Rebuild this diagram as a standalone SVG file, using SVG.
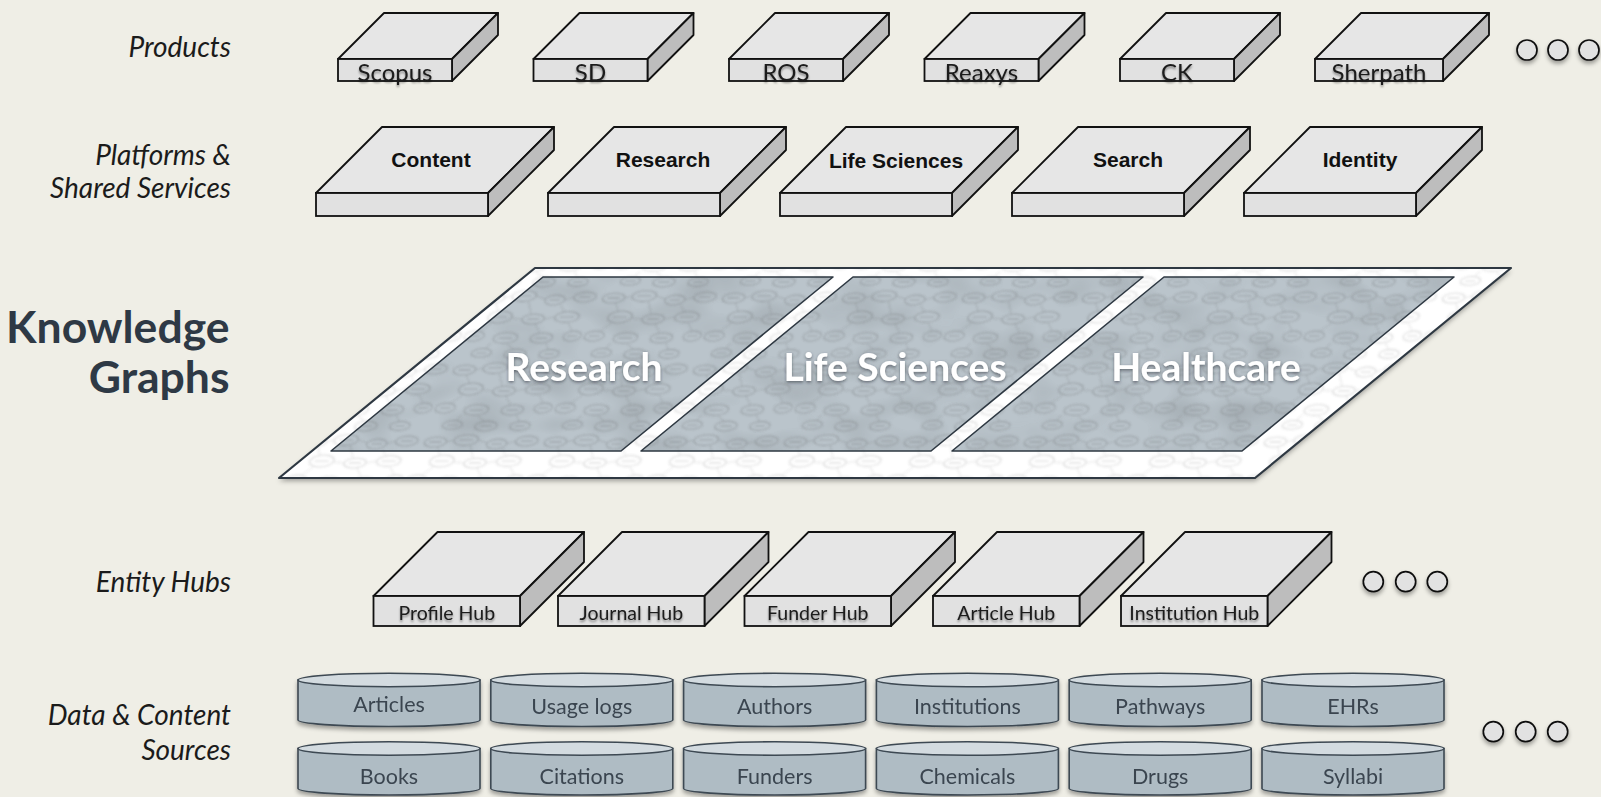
<svg xmlns="http://www.w3.org/2000/svg" width="1601" height="797" viewBox="0 0 1601 797">
  <defs>
    <style>
      .lbl { font-family: Lato, "Liberation Sans", sans-serif; font-style: italic; font-size: 28px; fill: #1b1b1b; text-anchor: end; }
      .kg { font-family: Lato, "Liberation Sans", sans-serif; font-weight: bold; font-size: 44.5px; fill: #2e3945; text-anchor: end; }
      .face-top { fill: #e6e6e6; stroke: #111; stroke-width: 1.8; stroke-linejoin: round; }
      .face-front { fill: #e1e1e1; stroke: #111; stroke-width: 1.8; }
      .face-side { fill: #bdbdbd; stroke: #111; stroke-width: 1.8; stroke-linejoin: round; }
      .prod { font-family: Lato, "Liberation Sans", sans-serif; font-size: 24px; fill: #1b1b1b; text-anchor: middle; filter: url(#txtShadow); }
      .plat { font-family: "Liberation Sans", Arial, sans-serif; font-weight: bold; font-size: 21px; fill: #111; text-anchor: middle; }
      .hub { font-family: Lato, "Liberation Sans", sans-serif; font-size: 19.5px; fill: #1b1b1b; text-anchor: middle; filter: url(#txtShadow); }
      .panel { fill: #a9b5be; fill-opacity: 0.8; }
      .panel-edge { fill: none; stroke: #2e3842; stroke-width: 1.6; stroke-linejoin: round; }
      .panel-txt { font-family: Lato, "Liberation Sans", sans-serif; font-weight: bold; font-size: 39px; fill: #ffffff; text-anchor: middle; filter: url(#txtShadowDark); }
      .cyl-body { fill: #afbcc4; stroke: #3d4852; stroke-width: 1.6; }
      .cyl-top { fill: #d3dbe0; stroke: #3d4852; stroke-width: 1.6; }
      .cyl-txt { font-family: Lato, "Liberation Sans", sans-serif; font-size: 21.5px; fill: #3a4550; text-anchor: middle; }
      .dot { fill: #e2e2e2; stroke: #111; stroke-width: 1.7; filter: url(#softShadow); }
    </style>
    <filter id="txtShadow" x="-10%" y="-30%" width="120%" height="170%">
      <feDropShadow dx="0" dy="2" stdDeviation="1.3" flood-color="#000" flood-opacity="0.4"/>
    </filter>
    <filter id="txtShadowDark" x="-10%" y="-30%" width="120%" height="170%">
      <feDropShadow dx="0" dy="1.5" stdDeviation="1.5" flood-color="#2a323a" flood-opacity="0.6"/>
    </filter>
    <filter id="softShadow" x="-40%" y="-40%" width="180%" height="190%">
      <feDropShadow dx="0" dy="3" stdDeviation="2" flood-color="#000" flood-opacity="0.35"/>
    </filter>
    <filter id="plateShadow" x="-5%" y="-5%" width="110%" height="115%">
      <feDropShadow dx="0" dy="3" stdDeviation="2.5" flood-color="#000" flood-opacity="0.35"/>
    </filter>
    <filter id="haze" x="0" y="0" width="100%" height="100%">
      <feGaussianBlur stdDeviation="1.1"/>
    </filter>
    <!-- darker blotches in the graph picture -->
    <filter id="mottle" x="0" y="0" width="100%" height="100%">
      <feTurbulence type="fractalNoise" baseFrequency="0.018 0.03" numOctaves="2" seed="7"/>
      <feColorMatrix type="matrix" values="0 0 0 0 0.25  0 0 0 0 0.28  0 0 0 0 0.3  0 0 0 -2.2 1.25"/>
    </filter>
    <!-- network-graph texture: labelled ellipse nodes with links -->
    <pattern id="net" width="120" height="72" patternUnits="userSpaceOnUse" patternTransform="skewX(-22)">
      <g fill="none" stroke="#606060" stroke-width="1">
        <ellipse cx="14" cy="10" rx="11" ry="5"/>
        <ellipse cx="44" cy="8" rx="12" ry="5.5"/>
        <ellipse cx="76" cy="12" rx="10" ry="5"/>
        <ellipse cx="105" cy="9" rx="11" ry="5"/>
        <ellipse cx="28" cy="29" rx="12" ry="6"/>
        <ellipse cx="62" cy="31" rx="11" ry="5"/>
        <ellipse cx="95" cy="29" rx="12" ry="5.5"/>
        <ellipse cx="10" cy="48" rx="10" ry="5"/>
        <ellipse cx="42" cy="50" rx="12" ry="5.5"/>
        <ellipse cx="78" cy="50" rx="11" ry="5"/>
        <ellipse cx="108" cy="48" rx="9" ry="5"/>
        <ellipse cx="24" cy="65" rx="10" ry="4.5"/>
        <ellipse cx="58" cy="66" rx="11" ry="5"/>
        <ellipse cx="92" cy="66" rx="10" ry="4.5"/>
        <path d="M8 10h12M37 8h14M71 12h10M99 9h12M21 29h14M56 31h12M88 29h14M5 48h10M35 50h14M72 50h12M103 48h10M19 65h10M52 66h12M87 66h10"/>
        <path d="M25 10 L32 8 M56 8 L66 11 M86 12 L94 9 M18 15 L24 23 M50 13 L58 26 M84 17 L90 24 M40 30 L51 31 M73 31 L83 29 M22 35 L14 43 M66 36 L74 45 M99 35 L106 43 M30 55 L26 61 M46 56 L54 61 M84 55 L90 62" stroke-width="0.7"/>
      </g>
    </pattern>
    <clipPath id="plateClip">
      <polygon points="535,268 1511,268 1255,478 279,478"/>
    </clipPath>
    <clipPath id="panelClip">
      <polygon points="543,277 833,277 621,451 331,451"/>
      <polygon points="853,277 1143,277 931,451 641,451"/>
      <polygon points="1164,277 1454,277 1242,451 952,451"/>
    </clipPath>
  </defs>

  <rect width="1601" height="797" fill="#efeee6"/>

  <!-- layer labels -->
  <g id="layer-labels">
    <text class="lbl" x="231" y="57">Products</text>
    <text class="lbl" x="231" y="165">Platforms &amp;</text>
    <text class="lbl" x="231" y="198">Shared Services</text>
    <text class="kg" x="229.5" y="343">Knowledge</text>
    <text class="kg" x="229.5" y="393">Graphs</text>
    <text class="lbl" x="231" y="592">Entity Hubs</text>
    <text class="lbl" x="231" y="725">Data &amp; Content</text>
    <text class="lbl" x="231" y="760">Sources</text>
  </g>

  <!-- products -->
  <g id="product-scopus">
    <polygon class="face-top" points="338,59 384,13 498,13 452,59"/>
    <polygon class="face-side" points="452,59 498,13 498,35 452,81"/>
    <rect class="face-front" x="338" y="59" width="114" height="22"/>
    <text class="prod" x="395" y="81">Scopus</text>
  </g>
  <g id="product-sd">
    <polygon class="face-top" points="533.5,59 579.5,13 693.5,13 647.5,59"/>
    <polygon class="face-side" points="647.5,59 693.5,13 693.5,35 647.5,81"/>
    <rect class="face-front" x="533.5" y="59" width="114" height="22"/>
    <text class="prod" x="590.5" y="81">SD</text>
  </g>
  <g id="product-ros">
    <polygon class="face-top" points="729,59 775,13 889,13 843,59"/>
    <polygon class="face-side" points="843,59 889,13 889,35 843,81"/>
    <rect class="face-front" x="729" y="59" width="114" height="22"/>
    <text class="prod" x="786" y="81">ROS</text>
  </g>
  <g id="product-reaxys">
    <polygon class="face-top" points="924.5,59 970.5,13 1084.5,13 1038.5,59"/>
    <polygon class="face-side" points="1038.5,59 1084.5,13 1084.5,35 1038.5,81"/>
    <rect class="face-front" x="924.5" y="59" width="114" height="22"/>
    <text class="prod" x="981.5" y="81">Reaxys</text>
  </g>
  <g id="product-ck">
    <polygon class="face-top" points="1120,59 1166,13 1280,13 1234,59"/>
    <polygon class="face-side" points="1234,59 1280,13 1280,35 1234,81"/>
    <rect class="face-front" x="1120" y="59" width="114" height="22"/>
    <text class="prod" x="1177" y="81">CK</text>
  </g>
  <g id="product-sherpath">
    <polygon class="face-top" points="1315,59 1361,13 1489,13 1443,59"/>
    <polygon class="face-side" points="1443,59 1489,13 1489,35 1443,81"/>
    <rect class="face-front" x="1315" y="59" width="128" height="22"/>
    <text class="prod" x="1379" y="81">Sherpath</text>
  </g>
  <g id="product-more">
    <circle class="dot" cx="1527" cy="50" r="10"/>
    <circle class="dot" cx="1558" cy="50" r="10"/>
    <circle class="dot" cx="1589" cy="50" r="10"/>
  </g>

  <!-- platforms & shared services -->
  <g id="platform-content">
    <polygon class="face-top" points="316,193 382,127 554,127 488,193"/>
    <polygon class="face-side" points="488,193 554,127 554,150 488,216"/>
    <rect class="face-front" x="316" y="193" width="172" height="23"/>
    <text class="plat" x="431" y="167">Content</text>
  </g>
  <g id="platform-research">
    <polygon class="face-top" points="548,193 614,127 786,127 720,193"/>
    <polygon class="face-side" points="720,193 786,127 786,150 720,216"/>
    <rect class="face-front" x="548" y="193" width="172" height="23"/>
    <text class="plat" x="663" y="167">Research</text>
  </g>
  <g id="platform-life-sciences">
    <polygon class="face-top" points="780,193 846,127 1018,127 952,193"/>
    <polygon class="face-side" points="952,193 1018,127 1018,150 952,216"/>
    <rect class="face-front" x="780" y="193" width="172" height="23"/>
    <text class="plat" x="896" y="168">Life Sciences</text>
  </g>
  <g id="platform-search">
    <polygon class="face-top" points="1012,193 1078,127 1250,127 1184,193"/>
    <polygon class="face-side" points="1184,193 1250,127 1250,150 1184,216"/>
    <rect class="face-front" x="1012" y="193" width="172" height="23"/>
    <text class="plat" x="1128" y="167">Search</text>
  </g>
  <g id="platform-identity">
    <polygon class="face-top" points="1244,193 1310,127 1482,127 1416,193"/>
    <polygon class="face-side" points="1416,193 1482,127 1482,150 1416,216"/>
    <rect class="face-front" x="1244" y="193" width="172" height="23"/>
    <text class="plat" x="1360" y="167">Identity</text>
  </g>

  <!-- knowledge graph plate -->
  <g id="knowledge-graphs">
    <polygon points="535,268 1511,268 1255,478 279,478" fill="#ffffff" filter="url(#plateShadow)"/>
    <g clip-path="url(#plateClip)" filter="url(#haze)">
      <rect x="279" y="268" width="1232" height="210" fill="url(#net)" opacity="0.25"/>
    </g>
    <g id="kg-research">
      <polygon class="panel" points="543,277 833,277 621,451 331,451"/>
    </g>
    <g id="kg-life-sciences">
      <polygon class="panel" points="853,277 1143,277 931,451 641,451"/>
    </g>
    <g id="kg-healthcare">
      <polygon class="panel" points="1164,277 1454,277 1242,451 952,451"/>
    </g>
    <g clip-path="url(#panelClip)">
      <rect x="279" y="268" width="1232" height="210" filter="url(#mottle)" opacity="0.35"/>
      <g filter="url(#haze)">
        <rect x="279" y="268" width="1232" height="210" fill="url(#net)" opacity="0.32"/>
      </g>
    </g>
    <polygon class="panel-edge" points="543,277 833,277 621,451 331,451"/>
    <polygon class="panel-edge" points="853,277 1143,277 931,451 641,451"/>
    <polygon class="panel-edge" points="1164,277 1454,277 1242,451 952,451"/>
    <polygon points="535,268 1511,268 1255,478 279,478" fill="none" stroke="#2e3842" stroke-width="2.2" stroke-linejoin="round"/>
    <text class="panel-txt" x="584" y="381">Research</text>
    <text class="panel-txt" x="895" y="381">Life Sciences</text>
    <text class="panel-txt" x="1206" y="381">Healthcare</text>
  </g>

  <!-- entity hubs -->
  <g id="hub-profile">
    <polygon class="face-top" points="373.5,596 437.5,532 584,532 520,596"/>
    <polygon class="face-side" points="520,596 584,532 584,562 520,626"/>
    <rect class="face-front" x="373.5" y="596" width="146.5" height="30"/>
    <text class="hub" x="446.8" y="620">Profile Hub</text>
  </g>
  <g id="hub-journal">
    <polygon class="face-top" points="558,596 622,532 768.5,532 704.5,596"/>
    <polygon class="face-side" points="704.5,596 768.5,532 768.5,562 704.5,626"/>
    <rect class="face-front" x="558" y="596" width="146.5" height="30"/>
    <text class="hub" x="631.3" y="620">Journal Hub</text>
  </g>
  <g id="hub-funder">
    <polygon class="face-top" points="744.5,596 808.5,532 955,532 891,596"/>
    <polygon class="face-side" points="891,596 955,532 955,562 891,626"/>
    <rect class="face-front" x="744.5" y="596" width="146.5" height="30"/>
    <text class="hub" x="817.8" y="620">Funder Hub</text>
  </g>
  <g id="hub-article">
    <polygon class="face-top" points="933,596 997,532 1143.5,532 1079.5,596"/>
    <polygon class="face-side" points="1079.5,596 1143.5,532 1143.5,562 1079.5,626"/>
    <rect class="face-front" x="933" y="596" width="146.5" height="30"/>
    <text class="hub" x="1006.3" y="620">Article Hub</text>
  </g>
  <g id="hub-institution">
    <polygon class="face-top" points="1121,596 1185,532 1331.5,532 1267.5,596"/>
    <polygon class="face-side" points="1267.5,596 1331.5,532 1331.5,562 1267.5,626"/>
    <rect class="face-front" x="1121" y="596" width="146.5" height="30"/>
    <text class="hub" x="1194.3" y="620">Institution Hub</text>
  </g>
  <g id="hub-more">
    <circle class="dot" cx="1373.3" cy="581.7" r="10"/>
    <circle class="dot" cx="1405.7" cy="581.7" r="10"/>
    <circle class="dot" cx="1437.3" cy="581.7" r="10"/>
  </g>

  <!-- data & content sources (cylinders) -->
  <g id="sources" filter="url(#softShadow)">
    <g id="src-articles">
      <path class="cyl-body" d="M298,680 V720 A91,6.5 0 0 0 480,720 V680 Z"/>
      <ellipse class="cyl-top" cx="389" cy="680" rx="91" ry="6.8"/>
      <text class="cyl-txt" x="389" y="712">Articles</text>
    </g>
    <g id="src-usage-logs">
      <path class="cyl-body" d="M490.8,680 V720 A91,6.5 0 0 0 672.8,720 V680 Z"/>
      <ellipse class="cyl-top" cx="581.8" cy="680" rx="91" ry="6.8"/>
      <text class="cyl-txt" x="581.8" y="714">Usage logs</text>
    </g>
    <g id="src-authors">
      <path class="cyl-body" d="M683.6,680 V720 A91,6.5 0 0 0 865.6,720 V680 Z"/>
      <ellipse class="cyl-top" cx="774.6" cy="680" rx="91" ry="6.8"/>
      <text class="cyl-txt" x="774.6" y="714">Authors</text>
    </g>
    <g id="src-institutions">
      <path class="cyl-body" d="M876.4,680 V720 A91,6.5 0 0 0 1058.4,720 V680 Z"/>
      <ellipse class="cyl-top" cx="967.4" cy="680" rx="91" ry="6.8"/>
      <text class="cyl-txt" x="967.4" y="714">Institutions</text>
    </g>
    <g id="src-pathways">
      <path class="cyl-body" d="M1069.2,680 V720 A91,6.5 0 0 0 1251.2,720 V680 Z"/>
      <ellipse class="cyl-top" cx="1160.2" cy="680" rx="91" ry="6.8"/>
      <text class="cyl-txt" x="1160.2" y="714">Pathways</text>
    </g>
    <g id="src-ehrs">
      <path class="cyl-body" d="M1262,680 V720 A91,6.5 0 0 0 1444,720 V680 Z"/>
      <ellipse class="cyl-top" cx="1353" cy="680" rx="91" ry="6.8"/>
      <text class="cyl-txt" x="1353" y="714">EHRs</text>
    </g>

    <g id="src-books">
      <path class="cyl-body" d="M298,748.5 V788.5 A91,6.5 0 0 0 480,788.5 V748.5 Z"/>
      <ellipse class="cyl-top" cx="389" cy="748.5" rx="91" ry="6.8"/>
      <text class="cyl-txt" x="389" y="783.5">Books</text>
    </g>
    <g id="src-citations">
      <path class="cyl-body" d="M490.8,748.5 V788.5 A91,6.5 0 0 0 672.8,788.5 V748.5 Z"/>
      <ellipse class="cyl-top" cx="581.8" cy="748.5" rx="91" ry="6.8"/>
      <text class="cyl-txt" x="581.8" y="783.5">Citations</text>
    </g>
    <g id="src-funders">
      <path class="cyl-body" d="M683.6,748.5 V788.5 A91,6.5 0 0 0 865.6,788.5 V748.5 Z"/>
      <ellipse class="cyl-top" cx="774.6" cy="748.5" rx="91" ry="6.8"/>
      <text class="cyl-txt" x="774.6" y="783.5">Funders</text>
    </g>
    <g id="src-chemicals">
      <path class="cyl-body" d="M876.4,748.5 V788.5 A91,6.5 0 0 0 1058.4,788.5 V748.5 Z"/>
      <ellipse class="cyl-top" cx="967.4" cy="748.5" rx="91" ry="6.8"/>
      <text class="cyl-txt" x="967.4" y="783.5">Chemicals</text>
    </g>
    <g id="src-drugs">
      <path class="cyl-body" d="M1069.2,748.5 V788.5 A91,6.5 0 0 0 1251.2,788.5 V748.5 Z"/>
      <ellipse class="cyl-top" cx="1160.2" cy="748.5" rx="91" ry="6.8"/>
      <text class="cyl-txt" x="1160.2" y="783.5">Drugs</text>
    </g>
    <g id="src-syllabi">
      <path class="cyl-body" d="M1262,748.5 V788.5 A91,6.5 0 0 0 1444,788.5 V748.5 Z"/>
      <ellipse class="cyl-top" cx="1353" cy="748.5" rx="91" ry="6.8"/>
      <text class="cyl-txt" x="1353" y="783.5">Syllabi</text>
    </g>
  </g>
  <g id="sources-more">
    <circle class="dot" cx="1493.3" cy="731.7" r="10"/>
    <circle class="dot" cx="1525.7" cy="731.7" r="10"/>
    <circle class="dot" cx="1557.7" cy="731.7" r="10"/>
  </g>

  <!-- no connectors are drawn between layers -->
  <g id="connectors"/>
</svg>
